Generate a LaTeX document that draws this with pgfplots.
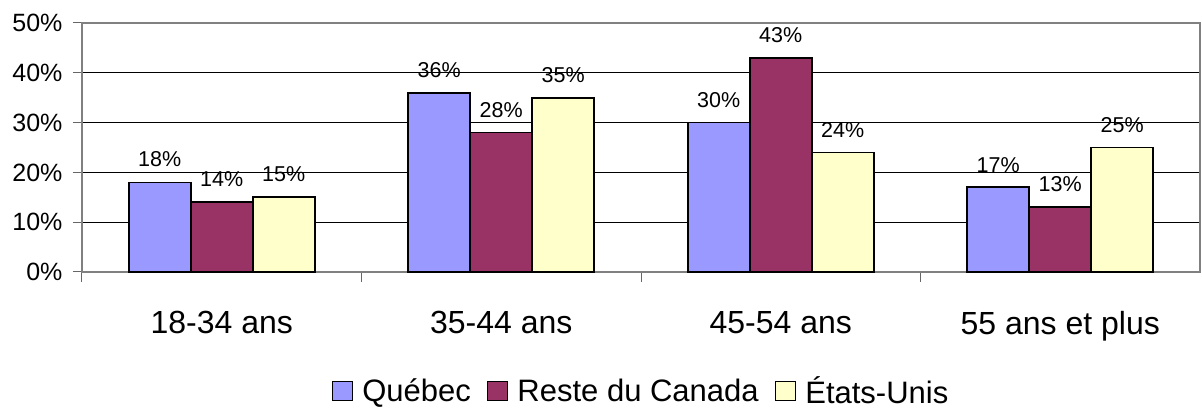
\documentclass[border=0pt]{standalone}
\usepackage{pgfplots}
\pgfplotsset{compat=1.18}
\usepackage{fontspec}
\setmainfont{Liberation Sans}
\definecolor{quebec}{HTML}{9999FF}
\definecolor{canada}{HTML}{993366}
\definecolor{usa}{HTML}{FFFFCC}
\begin{document}
\begin{tikzpicture}
\begin{axis}[
    scale only axis,
    width=1118pt, height=249pt,
    ybar=0pt,
    bar width=62pt,
    xmin=-0.5, xmax=3.5,
    ymin=0, ymax=50,
    xtick={0,1,2,3},
    xticklabels={18-34 ans,35-44 ans,45-54 ans,55 ans et plus},
    minor xtick={-0.5,0.5,1.5,2.5},
    major x tick style={draw=none},
    minor x tick style={black!60, line width=1pt},
    minor tick length=10pt,
    tick align=outside,
    xtick pos=bottom,
    ytick={0,10,20,30,40,50},
    ytick pos=left,
    major tick length=9pt,
    y tick style={black!60, line width=1pt},
    yticklabel={\pgfmathprintnumber{\tick}\%},
    /pgf/number format/assume math mode=true,
    xticklabel style={font=\fontsize{32}{36}\selectfont, yshift=-27pt},
    yticklabel style={font=\fontsize{25}{29}\selectfont, xshift=-7pt},
    ymajorgrids,
    grid style={black, line width=0.8pt},
    axis line style={black!50, line width=1.2pt},
    nodes near coords={\pgfmathprintnumber{\pgfplotspointmeta}\%},
    nodes near coords style={font=\fontsize{21.5}{25}\selectfont, yshift=11pt},
    clip=false,
    legend columns=3,
    legend style={draw=none, at={(0.5,-0.478)}, anchor=center,
        font=\fontsize{31}{35}\selectfont,
        /tikz/every odd column/.append style={column sep=7pt},
        /tikz/every even column/.append style={column sep=14pt}},
    legend image code/.code={\draw[#1, line width=1.6pt] (0pt,-9.5pt) rectangle (20pt,9.5pt);},
]
\addplot[fill=quebec, draw=black, line width=1.7pt] coordinates {(0,18) (1,36) (2,30) (3,17)};
\addplot[fill=canada, draw=black, line width=1.7pt] coordinates {(0,14) (1,28) (2,43) (3,13)};
\addplot[fill=usa, draw=black, line width=1.7pt] coordinates {(0,15) (1,35) (2,24) (3,25)};
\legend{Québec, Reste du Canada, États-Unis}
\path ([xshift=-82pt,yshift=-132pt]rel axis cs:0,0) rectangle ([xshift=2pt,yshift=23pt]rel axis cs:1,1);
\end{axis}
\end{tikzpicture}
\end{document}
